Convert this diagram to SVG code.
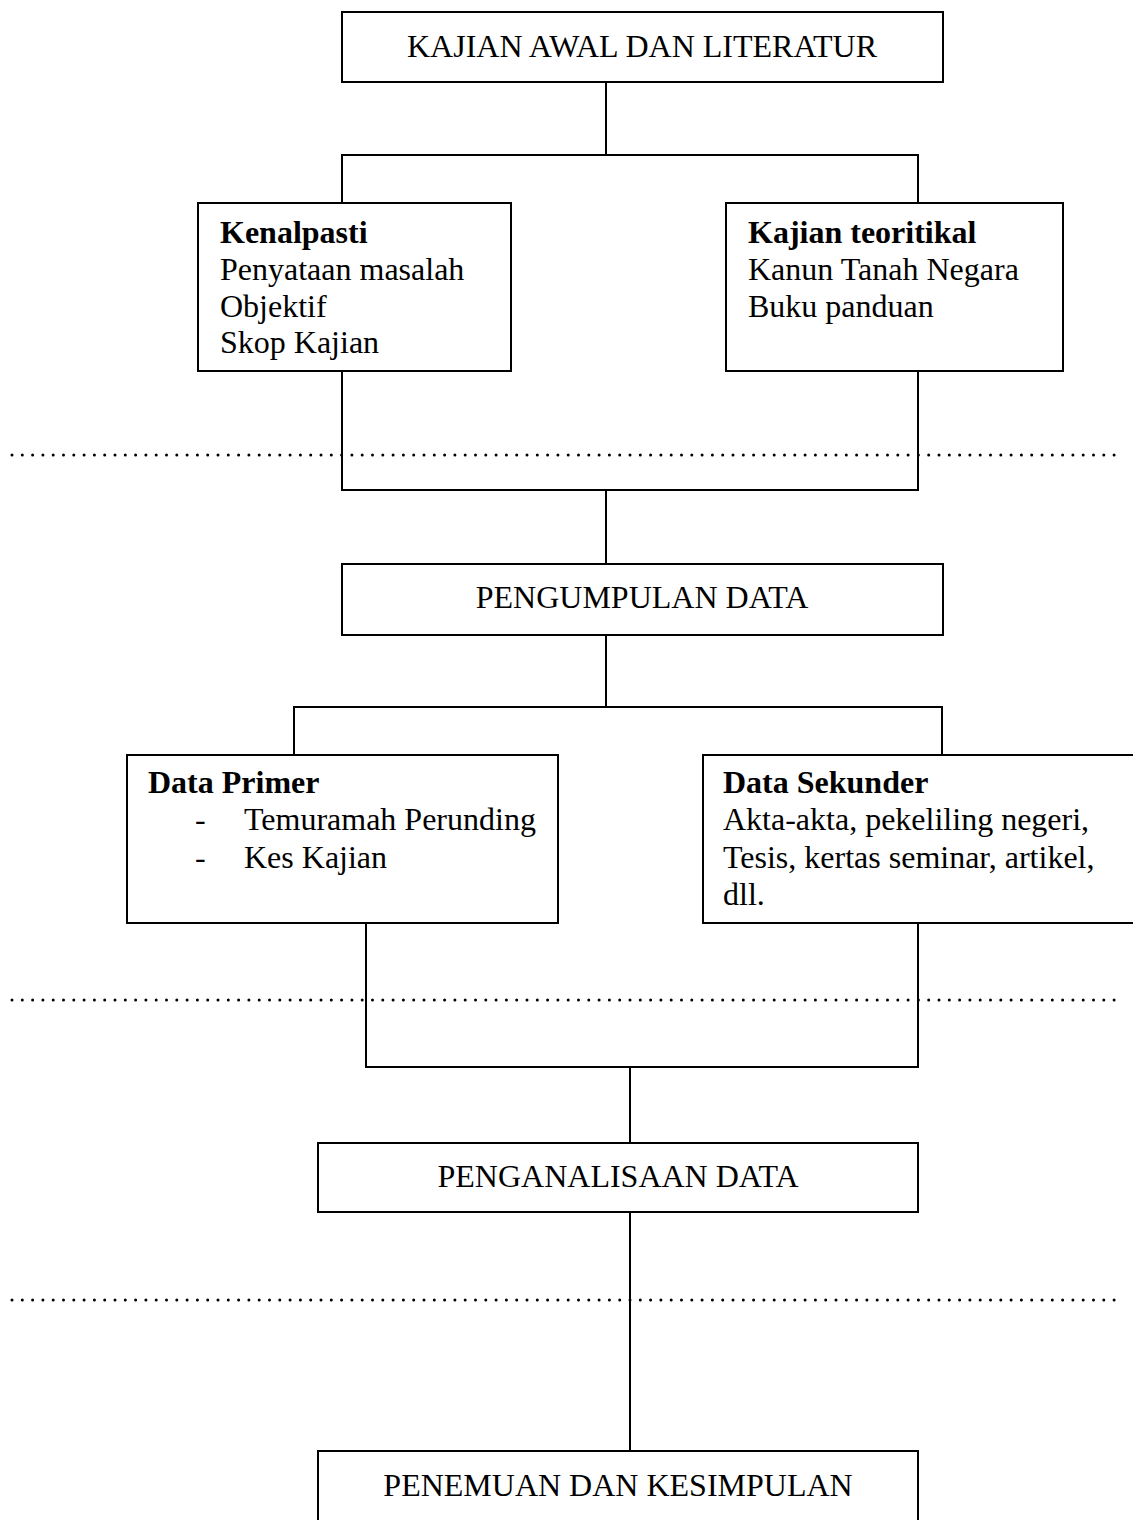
<svg xmlns="http://www.w3.org/2000/svg" width="1133" height="1520" viewBox="0 0 1133 1520">
<style>
.box{fill:#fff;stroke:#000;stroke-width:2}
.ln{fill:none;stroke:#000;stroke-width:2}
.dot{fill:none;stroke:#000;stroke-width:3;stroke-linecap:round;stroke-dasharray:0 10.3}
text{font-family:"Liberation Serif","Times New Roman",serif;font-size:32px;fill:#000}
.c{text-anchor:middle}
.b{font-weight:bold}
</style>
<rect width="1133" height="1520" fill="#fff"/>
<g id="dots">
<line class="dot" x1="12" y1="455" x2="1122" y2="455"/>
<line class="dot" x1="12" y1="1000" x2="1122" y2="1000"/>
<line class="dot" x1="12" y1="1300" x2="1122" y2="1300"/>
</g>
<g id="connectors">
<path class="ln" d="M606 82V155M342 203V155H918V203"/>
<path class="ln" d="M342 371V490H918V371M606 490V564"/>
<path class="ln" d="M606 635V707M294 755V707H942V755"/>
<path class="ln" d="M366 923V1067H918V923M630 1067V1143"/>
<path class="ln" d="M630 1212V1451"/>
</g>
<g id="kajian-awal">
<rect class="box" x="342" y="12" width="601" height="70"/>
<text class="c" x="642" y="57">KAJIAN AWAL DAN LITERATUR</text>
</g>
<g id="kenalpasti">
<rect class="box" x="198" y="203" width="313" height="168"/>
<text x="220" y="243" class="b">Kenalpasti</text>
<text x="220" y="280">Penyataan masalah</text>
<text x="220" y="317">Objektif</text>
<text x="220" y="353">Skop Kajian</text>
</g>
<g id="kajian-teoritikal">
<rect class="box" x="726" y="203" width="337" height="168"/>
<text x="748" y="243" class="b">Kajian teoritikal</text>
<text x="748" y="280">Kanun Tanah Negara</text>
<text x="748" y="317">Buku panduan</text>
</g>
<g id="pengumpulan">
<rect class="box" x="342" y="564" width="601" height="71"/>
<text class="c" x="642" y="608">PENGUMPULAN DATA</text>
</g>
<g id="data-primer">
<rect class="box" x="127" y="755" width="431" height="168"/>
<text x="148" y="793" class="b">Data Primer</text>
<text x="195" y="830">-</text>
<text x="244" y="830">Temuramah Perunding</text>
<text x="195" y="868">-</text>
<text x="244" y="868">Kes Kajian</text>
</g>
<g id="data-sekunder">
<rect class="box" x="703" y="755" width="440" height="168"/>
<text x="723" y="793" class="b">Data Sekunder</text>
<text x="723" y="830">Akta-akta, pekeliling negeri,</text>
<text x="723" y="868">Tesis, kertas seminar, artikel,</text>
<text x="723" y="905">dll.</text>
</g>
<g id="penganalisaan">
<rect class="box" x="318" y="1143" width="600" height="69"/>
<text class="c" x="618" y="1187">PENGANALISAAN DATA</text>
</g>
<g id="penemuan">
<rect class="box" x="318" y="1451" width="600" height="80"/>
<text class="c" x="618" y="1496">PENEMUAN DAN KESIMPULAN</text>
</g>
</svg>
